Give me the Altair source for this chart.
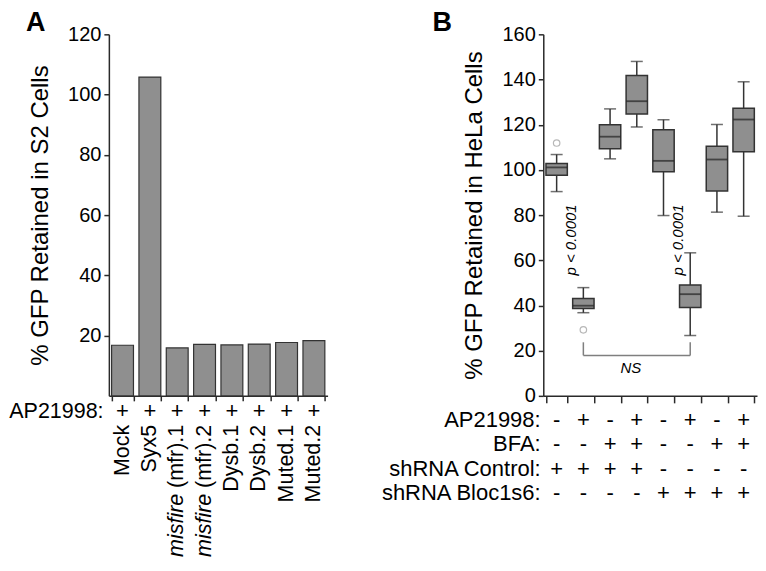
import altair as alt
import pandas as pd

# ---------------- Panel A data ----------------
a_categories = ["Mock", "Syx5", "misfire (mfr).1", "misfire (mfr).2",
                "Dysb.1", "Dysb.2", "Muted.1", "Muted.2"]
a_label_italic = ["", "", "misfire", "misfire", "", "", "", ""]
a_label_normal = ["Mock", "Syx5", "(mfr).1", "(mfr).2",
                  "Dysb.1", "Dysb.2", "Muted.1", "Muted.2"]
a_values = [16.8, 105.8, 15.9, 17.1, 16.9, 17.2, 17.7, 18.3]
a_ap21998 = ["+", "+", "+", "+", "+", "+", "+", "+"]
a_yticks = [20, 40, 60, 80, 100, 120]

# ---------------- Panel B data ----------------
b_groups = ["1", "2", "3", "4", "5", "6", "7", "8"]
b_ap21998 = ["-", "+", "-", "+", "-", "+", "-", "+"]
b_bfa = ["-", "-", "+", "+", "-", "-", "+", "+"]
b_sh_control = ["+", "+", "+", "+", "-", "-", "-", "-"]
b_sh_bloc = ["-", "-", "-", "-", "+", "+", "+", "+"]
b_whisker_low = [90.4, 36.8, 104.9, 119.0, 79.8, 26.7, 81.3, 79.5]
b_q1 = [97.6, 38.7, 109.4, 124.7, 99.2, 39.1, 90.7, 108.0]
b_median = [101.1, 39.9, 114.7, 130.4, 104.0, 45.0, 104.6, 122.3]
b_q3 = [102.8, 43.1, 120.0, 141.8, 117.8, 49.1, 110.5, 127.3]
b_whisker_high = [106.8, 47.9, 127.0, 148.0, 122.2, 63.3, 120.1, 139.0]
b_outlier_group = ["1", "2"]
b_outlier_value = [111.9, 29.2]
b_p_group = ["1", "5"]
b_p_value = [69.0, 69.0]
b_p_text = ["p < 0.0001", "p < 0.0001"]
b_ns_groups = ["2", "6"]
b_ns_level = 17.9
b_ns_tip = 23.7
b_ns_text_value = 12.2
b_yticks = [0, 20, 40, 60, 80, 100, 120, 140, 160]

FONT = "Liberation Sans"
GRAY = "#8f8f8f"
DARK = "#2a2a2a"
H = 362
WA = 219
WB = 214
STEP_B = WB / 8.0


def band_axis(tick_size):
    return alt.Axis(labels=False, title=None, tickBand="extent", tickSize=tick_size,
                    domainWidth=1.5, tickWidth=1.5, domainColor=DARK, tickColor=DARK)


# ---------------- Panel A ----------------
dfa = pd.DataFrame({
    "cat": a_categories, "value": a_values, "plus": a_ap21998,
    "it": a_label_italic, "nm": a_label_normal,
})

xA = alt.X("cat:N", sort=a_categories,
           scale=alt.Scale(domain=a_categories, paddingInner=0.2, paddingOuter=0.1),
           axis=band_axis(5))
yA = alt.Y("value:Q", scale=alt.Scale(domain=[0, 120]),
           axis=alt.Axis(values=a_yticks, grid=False, title="% GFP Retained in S2 Cells",
                         tickSize=5, labelPadding=3, titlePadding=15,
                         domainWidth=1.5, tickWidth=1.5, domainColor=DARK, tickColor=DARK))

baseA = alt.Chart(dfa)
barsA = baseA.mark_bar(fill=GRAY, stroke="#333333", strokeWidth=1.2).encode(x=xA, y=yA)
plusA = baseA.mark_text(fontSize=22, baseline="alphabetic").encode(
    x=xA, y=alt.value(H + 22), text="plus:N")
apA = baseA.mark_text(fontSize=21.5, baseline="alphabetic", align="right", dx=-19).encode(
    x=xA, y=alt.value(H + 22), text=alt.value("AP21998:")
).transform_filter(alt.datum.cat == a_categories[0])
nameA = baseA.mark_text(fontSize=21.5, angle=270, align="right", baseline="middle").encode(
    x=xA, y=alt.value(H + 29), text="nm:N")
italA = baseA.mark_text(fontSize=21.5, angle=270, align="right", baseline="middle",
                        fontStyle="italic", dx=-69).encode(
    x=xA, y=alt.value(H + 29), text="it:N")
letterA = alt.Chart(pd.DataFrame({"t": ["A"]})).mark_text(
    fontSize=27, fontWeight="bold", align="left", baseline="alphabetic").encode(
    x=alt.value(-83), y=alt.value(-3), text="t:N")

panelA = alt.layer(barsA, plusA, apA, nameA, italA, letterA).properties(width=WA, height=H)

# ---------------- Panel B ----------------
dfb = pd.DataFrame({
    "grp": b_groups, "wl": b_whisker_low, "q1": b_q1, "med": b_median,
    "q3": b_q3, "wh": b_whisker_high, "ap": b_ap21998, "bfa": b_bfa,
    "ctrl": b_sh_control, "bloc": b_sh_bloc,
})

scaleXB = alt.Scale(domain=b_groups, paddingInner=0.2, paddingOuter=0.1)
xB = alt.X("grp:N", sort=b_groups, scale=scaleXB, axis=band_axis(7))
TITLE_B = "% GFP Retained in HeLa Cells"


def yB(field):
    return alt.Y(field, type="quantitative", scale=alt.Scale(domain=[0, 160]),
                 title=TITLE_B,
                 axis=alt.Axis(values=b_yticks, grid=False, title=TITLE_B,
                               tickSize=5, labelPadding=3, titlePadding=15,
                               domainWidth=1.5, tickWidth=1.5, domainColor=DARK,
                               tickColor=DARK))


baseB = alt.Chart(dfb)
whisk = baseB.mark_rule(color="#333333", strokeWidth=1.5).encode(
    x=xB, y=yB("wl"), y2="wh:Q")
capHi = baseB.mark_tick(color="#333333", size=12, thickness=1.5).encode(x=xB, y=yB("wh"))
capLo = baseB.mark_tick(color="#333333", size=12, thickness=1.5).encode(x=xB, y=yB("wl"))
box = baseB.mark_bar(fill=GRAY, stroke="#333333", strokeWidth=1.5).encode(
    x=xB, y=yB("q1"), y2="q3:Q")
medianB = baseB.mark_tick(color="#222222", size=21, thickness=1.8).encode(x=xB, y=yB("med"))

outl = alt.Chart(pd.DataFrame({"grp": b_outlier_group, "v": b_outlier_value})).mark_point(
    shape="circle", filled=False, color="#9a9a9a", size=42, strokeWidth=1.2).encode(
    x=xB, y=yB("v"))

pText = alt.Chart(pd.DataFrame({"grp": b_p_group, "v": b_p_value, "t": b_p_text})).mark_text(
    fontSize=15, fontStyle="italic", angle=270, align="center", baseline="middle",
    dy=STEP_B / 2 + 1).encode(x=xB, y=yB("v"), text="t:N")

nsH = alt.Chart(pd.DataFrame({"g1": [b_ns_groups[0]], "g2": [b_ns_groups[1]],
                              "v": [b_ns_level]})).mark_rule(
    color="#7f7f7f", strokeWidth=1.5).encode(
    x=alt.X("g1:N", sort=b_groups, scale=scaleXB, axis=band_axis(7)),
    x2="g2:N", y=yB("v"))
nsV = alt.Chart(pd.DataFrame({"grp": b_ns_groups, "v": [b_ns_level] * 2,
                              "v2": [b_ns_tip] * 2})).mark_rule(
    color="#7f7f7f", strokeWidth=1.5).encode(x=xB, y=yB("v"), y2="v2:Q")
nsT = alt.Chart(pd.DataFrame({"grp": ["4"], "v": [b_ns_text_value], "t": ["NS"]})).mark_text(
    fontSize=15, fontStyle="italic", align="center", baseline="middle", dx=-6).encode(
    x=xB, y=yB("v"), text="t:N")

rows = [("AP21998:", "ap", 31), ("BFA:", "bfa", 55),
        ("shRNA Control:", "ctrl", 80), ("shRNA Bloc1s6:", "bloc", 104)]
rowLayers = []
for label, field, off in rows:
    rowLayers.append(baseB.mark_text(fontSize=22, baseline="alphabetic").encode(
        x=xB, y=alt.value(H + off), text=f"{field}:N"))
    rowLayers.append(baseB.mark_text(fontSize=22, baseline="alphabetic", align="right",
                                     dx=-16).encode(
        x=xB, y=alt.value(H + off), text=alt.value(label)
    ).transform_filter(alt.datum.grp == b_groups[0]))

letterB = alt.Chart(pd.DataFrame({"t": ["B"]})).mark_text(
    fontSize=27, fontWeight="bold", align="left", baseline="alphabetic").encode(
    x=alt.value(-111), y=alt.value(-3), text="t:N")

panelB = alt.layer(whisk, capHi, capLo, box, medianB, outl, pText, nsH, nsV, nsT,
                   *rowLayers, letterB).properties(width=WB, height=H)

chart = alt.hconcat(panelA, panelB, spacing=216).properties(
    bounds="flush",
    padding={"left": 0, "top": 0, "right": 0, "bottom": 0},
).configure(font=FONT).configure_axis(
    labelFont=FONT, titleFont=FONT, labelFontSize=20, titleFontSize=24,
    titleFontWeight="normal", labelColor="black", titleColor="black",
).configure_view(stroke="transparent").configure_text(color="black")

chart.save("out.html", embed_options={"renderer": "svg", "actions": False})
